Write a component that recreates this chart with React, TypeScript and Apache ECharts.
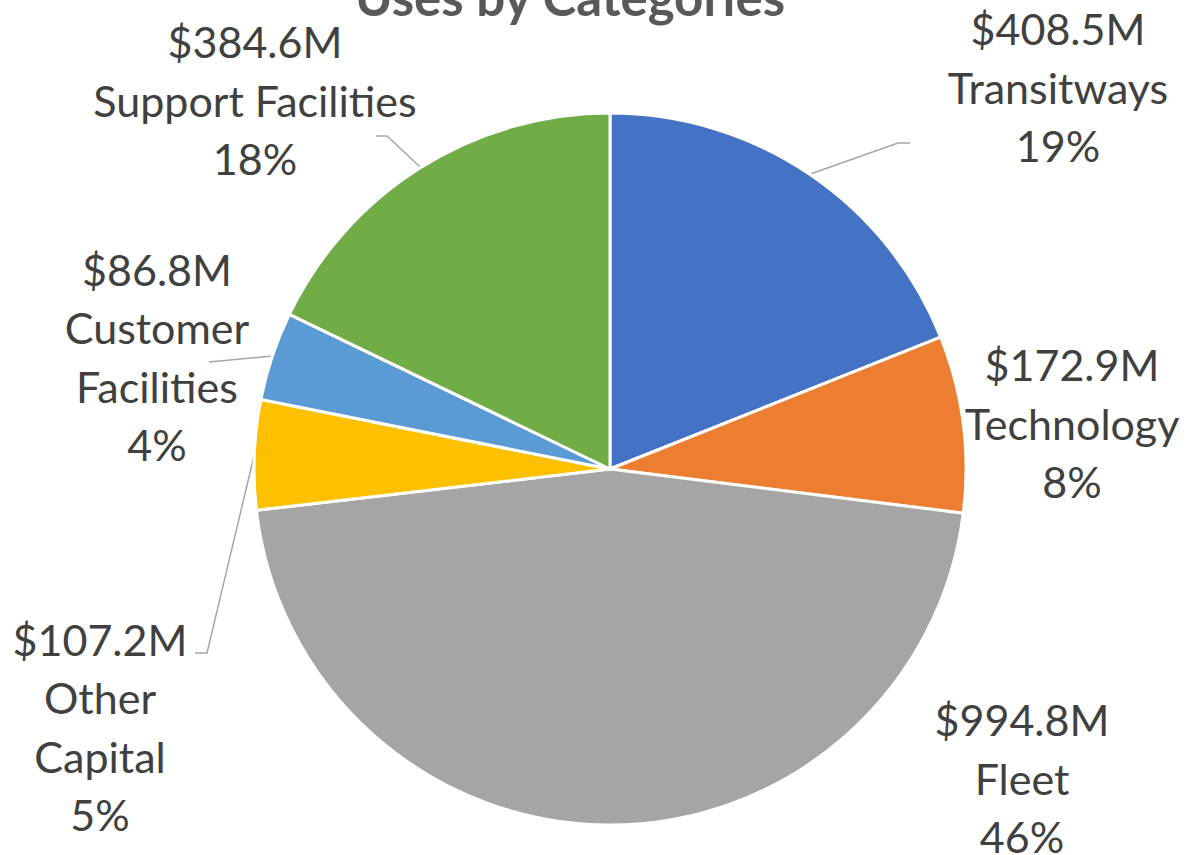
import React, { useEffect, useRef } from "react";
import * as echarts from "echarts";

const categories = ["Transitways", "Technology", "Fleet", "Other Capital", "Customer Facilities", "Support Facilities"];
const labelNames = ["Transitways", "Technology", "Fleet", "Other\nCapital", "Customer\nFacilities", "Support Facilities"];
const values = [408.5, 172.9, 994.8, 107.2, 86.8, 384.6];
const colors = ["#4472C4", "#ED7D31", "#A5A5A5", "#FFC000", "#5B9BD5", "#70AD47"];
const showLines = [true, false, false, true, true, true];
const titleText = "Uses by Categories";

// label block centers (layout only)
const labelPos: [number, number][] = [
  [1058, 87],
  [1072, 423],
  [1022, 778],
  [100, 727],
  [157, 357],
  [255, 100],
];
// leader-line bend points after the slice edge (layout only)
const linePath: number[][][] = [
  [[898, 143], [910, 143]],
  [],
  [],
  [[207, 653], [195, 653]],
  [[209, 362]],
  [[387, 136], [376, 136]],
];

export default function App() {
  const ref = useRef<HTMLDivElement>(null);
  useEffect(() => {
    if (!ref.current) return;
    const chart = echarts.init(ref.current, null, { renderer: "svg" });
    const font = "Lato";
    chart.setOption({
      animation: false,
      backgroundColor: "#ffffff",
      graphic: [
        {
          type: "text",
          x: 570,
          y: 22,
          style: {
            text: titleText,
            font: `bold 51px ${font}`,
            fill: "#595959",
            textAlign: "center",
            textVerticalAlign: "bottom",
          },
        },
      ],
      series: [
        {
          type: "pie",
          center: [610, 469],
          radius: 356,
          startAngle: 90,
          clockwise: true,
          itemStyle: { borderColor: "#ffffff", borderWidth: 3 },
          label: {
            show: true,
            position: "outside",
            fontFamily: font,
            fontSize: 43,
            lineHeight: 58.5,
            color: "#404040",
            align: "center",
            overflow: "none",
            formatter: (p: any) =>
              `$${p.value.toFixed(1)}M\n${labelNames[p.dataIndex]}\n${Math.round(p.percent)}%`,
          },
          labelLine: {
            show: true,
            length: 20,
            length2: 20,
            lineStyle: { color: "#A6A6A6", width: 1.5 },
          },
          labelLayout: (params: any) => {
            const i = params.dataIndex;
            const [x, y] = labelPos[i];
            const out: any = { x, y, align: "center", verticalAlign: "middle", width: 400 };
            const pts = params.labelLinePoints;
            if (showLines[i] && pts && pts.length) {
              out.labelLinePoints = [pts[0], ...linePath[i]];
            }
            return out;
          },
          data: categories.map((name, i) => ({
            name,
            value: values[i],
            itemStyle: { color: colors[i] },
            labelLine: { show: showLines[i] },
          })),
        },
      ],
    });
    return () => chart.dispose();
  }, []);
  return (
    <div
      ref={ref}
      style={{ position: "fixed", left: 0, top: 0, width: 1186, height: 855 }}
    />
  );
}
